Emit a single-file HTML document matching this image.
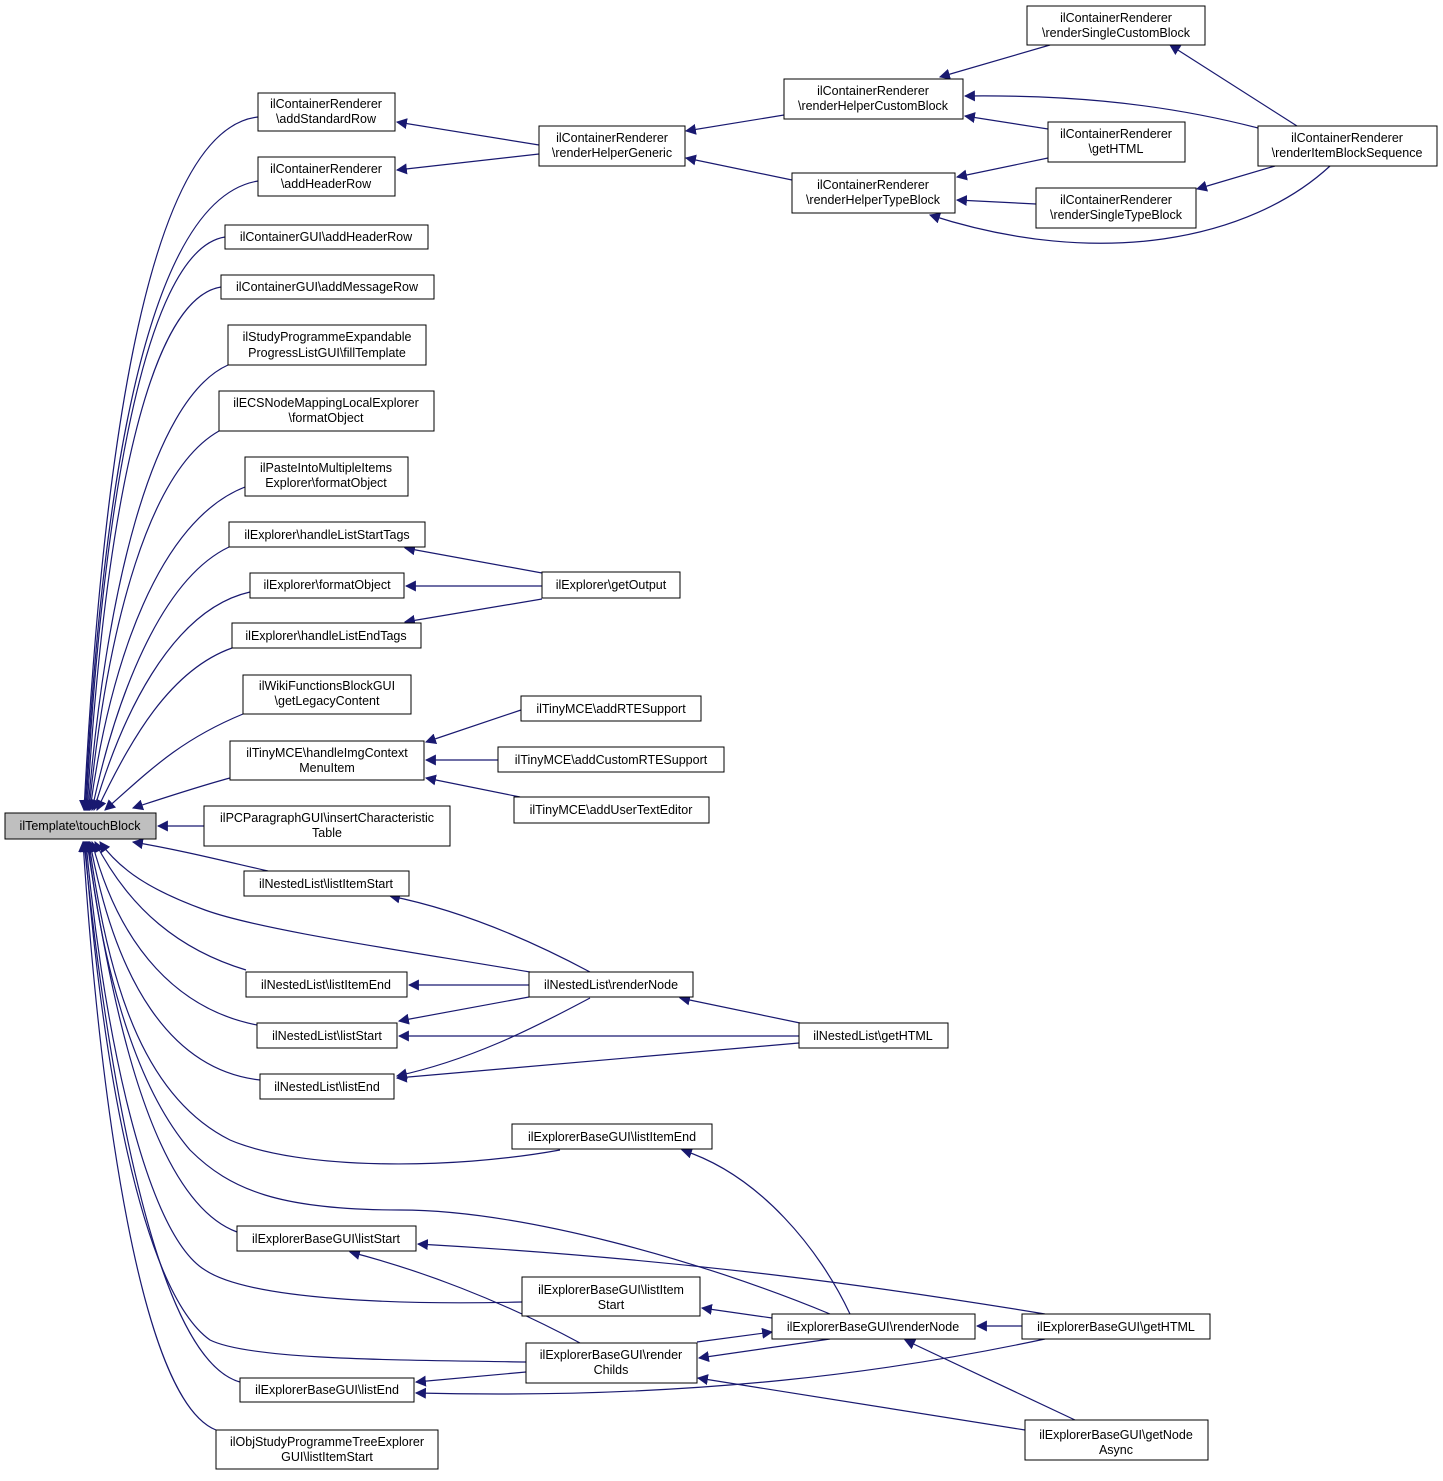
<!DOCTYPE html>
<html><head><meta charset="utf-8"><style>
html,body{margin:0;padding:0;background:#fff}
svg text{font-family:"Liberation Sans",sans-serif;font-size:12.5px;fill:#000;text-anchor:middle}
</style></head><body>
<svg width="1443" height="1476" viewBox="0 0 1443 1476" xmlns="http://www.w3.org/2000/svg">
<defs><marker id="a" viewBox="0 0 10 10" refX="9" refY="5" markerWidth="11" markerHeight="11" markerUnits="userSpaceOnUse" orient="auto"><path d="M0,0 L10,5 L0,10 z" fill="#191970"/></marker></defs>
<g fill="none" stroke="#191970" stroke-width="1.2" marker-end="url(#a)">
<!-- to touchBlock -->
<path d="M258,117 C140,130 100,500 84,810"/>
<path d="M258,181 C140,200 100,520 85,810"/>
<path d="M225,237 C140,250 100,540 86,810"/>
<path d="M221,287 C140,300 102,560 87,810"/>
<path d="M228,365 C150,400 105,600 88,810"/>
<path d="M219,431 C150,470 108,620 89,810"/>
<path d="M245,487 C160,520 110,660 90,810"/>
<path d="M229,547 C160,580 115,700 92,810"/>
<path d="M250,592 C170,610 120,720 94,810"/>
<path d="M232,648 C170,670 130,740 97,810"/>
<path d="M243,714 C180,740 150,770 105,810"/>
<path d="M230,778 C200,786 170,796 133,808"/>
<path d="M204,826 L158,826"/>
<path d="M268,871 C220,860 180,850 133,842"/>
<path d="M530,972 C400,950 260,930 205,910 C150,890 120,870 100,842"/>
<path d="M246,970 C180,950 130,910 95,842"/>
<path d="M257,1025 C180,1010 120,950 92,842"/>
<path d="M260,1080 C170,1070 115,980 90,842"/>
<path d="M560,1150 C450,1170 300,1170 230,1140 C150,1100 110,1000 89,842"/>
<path d="M830,1314 C700,1260 520,1210 400,1210 C280,1210 230,1190 190,1150 C130,1080 100,950 88,842"/>
<path d="M237,1232 C150,1200 110,1000 87,842"/>
<path d="M522,1302 C400,1305 250,1300 205,1270 C140,1230 100,1000 86,842"/>
<path d="M526,1362 C400,1360 250,1360 210,1340 C140,1290 100,1050 85,842"/>
<path d="M240,1382 C160,1360 110,1100 84,842"/>
<path d="M216,1430 C140,1400 100,1100 83,842"/>
<!-- others -->
<path d="M539,145 L397,122"/>
<path d="M539,154 L397,170"/>
<path d="M784,115 L686,131"/>
<path d="M792,180 L686,158"/>
<path d="M1050,45 L940,77"/>
<path d="M1297,126 L1170,45"/>
<path d="M1258,128 C1150,100 1050,95 965,96"/>
<path d="M1048,129 L965,116"/>
<path d="M1048,158 L957,177"/>
<path d="M1036,204 L957,200"/>
<path d="M1275,166 L1197,189"/>
<path d="M1330,166 C1250,240 1100,270 930,215"/>
<path d="M542,573 L405,548"/>
<path d="M542,586 L406,586"/>
<path d="M542,599 L405,622"/>
<path d="M521,710 L426,742"/>
<path d="M498,760 L426,760"/>
<path d="M520,797 L426,778"/>
<path d="M590,972 C530,940 460,910 390,896"/>
<path d="M529,985 L409,985"/>
<path d="M529,997 L399,1021"/>
<path d="M590,998 C530,1030 470,1060 397,1076"/>
<path d="M800,1023 L680,998"/>
<path d="M799,1036 L399,1036"/>
<path d="M799,1043 L397,1078"/>
<path d="M850,1314 C820,1250 760,1175 682,1150"/>
<path d="M1045,1314 C900,1290 700,1260 418,1244"/>
<path d="M580,1343 C500,1300 420,1270 350,1252"/>
<path d="M772,1318 L702,1308"/>
<path d="M697,1342 L772,1332"/>
<path d="M830,1339 L699,1358"/>
<path d="M1022,1326 L977,1326"/>
<path d="M1075,1420 L905,1340"/>
<path d="M526,1372 L416,1382"/>
<path d="M1045,1339 C900,1370 700,1400 416,1393"/>
<path d="M1025,1430 L698,1378"/>
</g>
<g fill="#fff" stroke="#000" stroke-width="1">
<rect x="5" y="813" width="151" height="26" fill="#bfbfbf"/>
<rect x="258" y="93" width="137" height="38"/>
<rect x="258" y="157" width="137" height="39"/>
<rect x="225" y="225" width="203" height="24"/>
<rect x="221" y="275" width="213" height="24"/>
<rect x="228" y="325" width="198" height="40"/>
<rect x="219" y="391" width="215" height="40"/>
<rect x="245" y="457" width="163" height="39"/>
<rect x="229" y="522" width="196" height="25"/>
<rect x="250" y="573" width="154" height="25"/>
<rect x="232" y="623" width="189" height="25"/>
<rect x="243" y="675" width="168" height="39"/>
<rect x="230" y="741" width="194" height="39"/>
<rect x="204" y="806" width="246" height="40"/>
<rect x="244" y="871" width="165" height="25"/>
<rect x="246" y="972" width="161" height="25"/>
<rect x="257" y="1023" width="140" height="25"/>
<rect x="260" y="1074" width="134" height="25"/>
<rect x="512" y="1124" width="200" height="25"/>
<rect x="237" y="1226" width="179" height="25"/>
<rect x="240" y="1378" width="174" height="24"/>
<rect x="216" y="1430" width="222" height="39"/>
<rect x="539" y="126" width="146" height="40"/>
<rect x="542" y="572" width="138" height="26"/>
<rect x="521" y="696" width="180" height="25"/>
<rect x="498" y="747" width="226" height="25"/>
<rect x="514" y="797" width="195" height="26"/>
<rect x="529" y="972" width="164" height="25"/>
<rect x="522" y="1277" width="178" height="39"/>
<rect x="526" y="1343" width="171" height="40"/>
<rect x="784" y="79" width="179" height="40"/>
<rect x="792" y="173" width="163" height="40"/>
<rect x="799" y="1023" width="149" height="25"/>
<rect x="772" y="1314" width="203" height="25"/>
<rect x="1027" y="6" width="178" height="39"/>
<rect x="1048" y="122" width="137" height="40"/>
<rect x="1036" y="188" width="160" height="40"/>
<rect x="1258" y="126" width="179" height="40"/>
<rect x="1022" y="1314" width="188" height="25"/>
<rect x="1025" y="1420" width="183" height="40"/>
</g>
<g>
<text x="80" y="830">ilTemplate\touchBlock</text>
<text x="326" y="108">ilContainerRenderer</text><text x="326" y="123">\addStandardRow</text>
<text x="326" y="173">ilContainerRenderer</text><text x="326" y="188">\addHeaderRow</text>
<text x="326" y="241">ilContainerGUI\addHeaderRow</text>
<text x="327" y="291">ilContainerGUI\addMessageRow</text>
<text x="327" y="341">ilStudyProgrammeExpandable</text><text x="327" y="357">ProgressListGUI\fillTemplate</text>
<text x="326" y="407">ilECSNodeMappingLocalExplorer</text><text x="326" y="422">\formatObject</text>
<text x="326" y="472">ilPasteIntoMultipleItems</text><text x="326" y="487">Explorer\formatObject</text>
<text x="327" y="539">ilExplorer\handleListStartTags</text>
<text x="327" y="589">ilExplorer\formatObject</text>
<text x="326" y="640">ilExplorer\handleListEndTags</text>
<text x="327" y="690">ilWikiFunctionsBlockGUI</text><text x="327" y="705">\getLegacyContent</text>
<text x="327" y="757">ilTinyMCE\handleImgContext</text><text x="327" y="772">MenuItem</text>
<text x="327" y="822">ilPCParagraphGUI\insertCharacteristic</text><text x="327" y="837">Table</text>
<text x="326" y="888">ilNestedList\listItemStart</text>
<text x="326" y="989">ilNestedList\listItemEnd</text>
<text x="327" y="1040">ilNestedList\listStart</text>
<text x="327" y="1091">ilNestedList\listEnd</text>
<text x="612" y="1141">ilExplorerBaseGUI\listItemEnd</text>
<text x="326" y="1243">ilExplorerBaseGUI\listStart</text>
<text x="327" y="1394">ilExplorerBaseGUI\listEnd</text>
<text x="327" y="1446">ilObjStudyProgrammeTreeExplorer</text><text x="327" y="1461">GUI\listItemStart</text>
<text x="612" y="142">ilContainerRenderer</text><text x="612" y="157">\renderHelperGeneric</text>
<text x="611" y="589">ilExplorer\getOutput</text>
<text x="611" y="713">ilTinyMCE\addRTESupport</text>
<text x="611" y="764">ilTinyMCE\addCustomRTESupport</text>
<text x="611" y="814">ilTinyMCE\addUserTextEditor</text>
<text x="611" y="989">ilNestedList\renderNode</text>
<text x="611" y="1294">ilExplorerBaseGUI\listItem</text><text x="611" y="1309">Start</text>
<text x="611" y="1359">ilExplorerBaseGUI\render</text><text x="611" y="1374">Childs</text>
<text x="873" y="95">ilContainerRenderer</text><text x="873" y="110">\renderHelperCustomBlock</text>
<text x="873" y="189">ilContainerRenderer</text><text x="873" y="204">\renderHelperTypeBlock</text>
<text x="873" y="1040">ilNestedList\getHTML</text>
<text x="873" y="1331">ilExplorerBaseGUI\renderNode</text>
<text x="1116" y="22">ilContainerRenderer</text><text x="1116" y="37">\renderSingleCustomBlock</text>
<text x="1116" y="138">ilContainerRenderer</text><text x="1116" y="153">\getHTML</text>
<text x="1116" y="204">ilContainerRenderer</text><text x="1116" y="219">\renderSingleTypeBlock</text>
<text x="1347" y="142">ilContainerRenderer</text><text x="1347" y="157">\renderItemBlockSequence</text>
<text x="1116" y="1331">ilExplorerBaseGUI\getHTML</text>
<text x="1116" y="1439">ilExplorerBaseGUI\getNode</text><text x="1116" y="1454">Async</text>
</g>
</svg>
</body></html>
